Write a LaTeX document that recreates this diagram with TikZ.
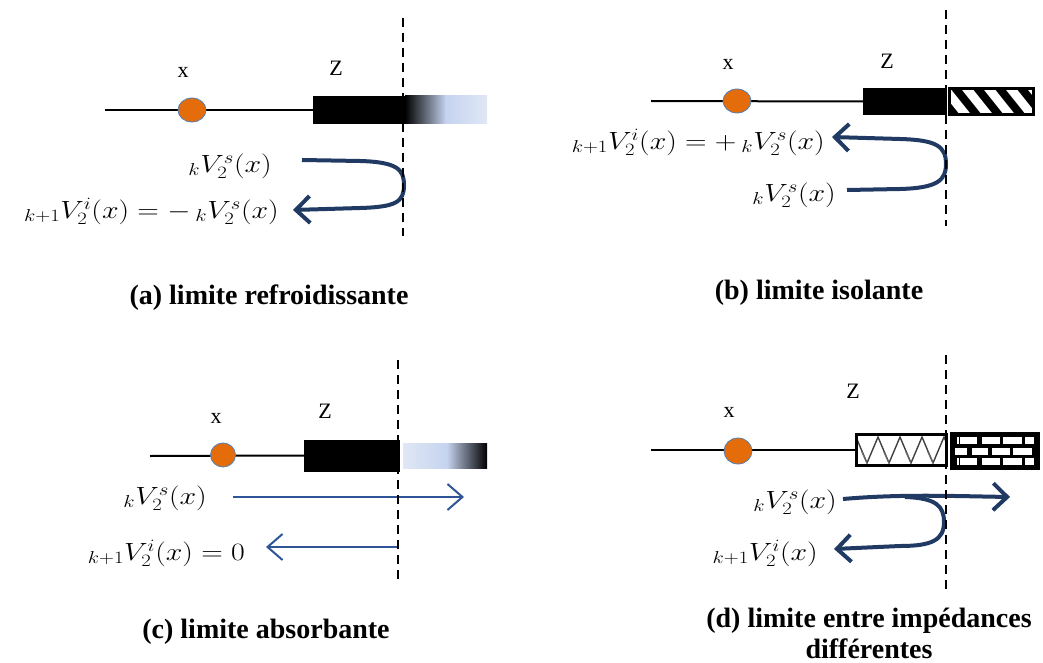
\documentclass[tikz,border=0pt]{standalone}
\usepackage{fontspec}
\setmainfont{Liberation Serif}
\usetikzlibrary{arrows.meta,shapes.geometric}
\DeclareMathSizes{28}{28}{19}{14}
\definecolor{dotorange}{HTML}{E46C0A}
\definecolor{dotedge}{HTML}{4F81BD}
\definecolor{navy}{HTML}{203A63}
\definecolor{midblue}{HTML}{2F5597}
\definecolor{lb}{HTML}{C5D3EF}
\definecolor{lbb}{HTML}{E0E7F5}
\newcommand{\wideeq}[1]{\scalebox{1.2}[1]{#1}}
\tikzset{
  wire/.style={line width=2pt, black},
  dot/.style={ellipse, fill=dotorange, draw=dotedge, line width=0.8pt, minimum width=28pt, minimum height=24pt, inner sep=0pt},
  lbl/.style={font=\fontsize{22}{26}\selectfont, inner sep=0pt},
  eq/.style={font=\fontsize{28}{33}\selectfont, inner sep=0pt},
  ttl/.style={font=\fontsize{28}{31}\selectfont\bfseries, align=center, inner sep=0pt},
  limitline/.style={line width=2.5pt, dash pattern=on 9pt off 6pt},
  solidbox/.style={fill=black, draw=none, inner sep=0pt},
  framebox/.style={draw=black, line width=3pt, inner sep=0pt},
  bigarrow/.style={line width=4pt, navy, -{Straight Barb[length=14pt,width=27pt]}},
  thinarrow/.style={line width=2pt, midblue, -{Straight Barb[length=15pt,width=26pt]}},
}
\begin{document}
\begin{tikzpicture}[x=1pt,y=-1pt]
\useasboundingbox (0,0) rectangle (1043,663);

% ---------------- (a) ----------------
\node[solidbox, minimum width=92pt, minimum height=28pt] (za) at (359,110) {};
\shade[left color=black, right color=lb] (405,96) rectangle (446,124);
\shade[left color=lb, right color=lbb] (445,96) rectangle (487,124);
\coordinate (la) at (105,110);
\draw[wire] (la) -- (za.west);
\node[dot] (xa) at (192,110) {};
\node[lbl] (lxa) at (183,72) {x};
\node[lbl] (lza) at (336,68) {Z};
\node[eq, anchor=east] (ea1) at (272,166) {\wideeq{${}_{k}V_{2}^{s}(x)$}};
\node[eq, anchor=east] (ea2) at (279,211) {\wideeq{${}_{k+1}V_{2}^{i}(x) = -\,{}_{k}V_{2}^{s}(x)$}};
\coordinate (sa) at (302,160);
\coordinate (ta) at (293,210);
\draw[bigarrow] (sa) -- (360,161) .. controls (398,162) and (404,170) .. (404,185) .. controls (404,202) and (396,207) .. (360,208) -- (ta);
\coordinate (da1) at (403,18);
\coordinate (da2) at (403,236);
\draw[limitline] (da1) -- (da2);
\node[ttl] (tta) at (269,298) {(a) limite refroidissante};

% ---------------- (b) ----------------
\node[solidbox, minimum width=84pt, minimum height=27pt] (zb) at (905,101.5) {};
\begin{scope}
  \clip (949,88) rectangle (1034,115);
  \foreach \i in {0,...,5} \draw[line width=8pt] (930+\i*22,84) -- (958+\i*22,119);
\end{scope}
\node[framebox, minimum width=84pt, minimum height=26pt] (hb) at (991.5,101.5) {};
\coordinate (lb0) at (651,101);
\draw[wire] (lb0) -- (zb.west);
\node[dot] (xb) at (737,101) {};
\node[lbl] (lxb) at (728,64) {x};
\node[lbl] (lzb) at (887,61) {Z};
\node[eq, anchor=east] (eb1) at (825,142) {\wideeq{${}_{k+1}V_{2}^{i}(x) = +\,{}_{k}V_{2}^{s}(x)$}};
\node[eq, anchor=east] (eb2) at (836,195) {\wideeq{${}_{k}V_{2}^{s}(x)$}};
\coordinate (sb) at (847,190);
\coordinate (tb) at (832,137);
\draw[bigarrow] (sb) -- (900,189) .. controls (938,188) and (946,180) .. (946,164) .. controls (946,146) and (936,140) .. (900,139) -- (tb);
\coordinate (db1) at (946,10);
\coordinate (db2) at (946,226);
\draw[limitline] (db1) -- (db2);
\node[ttl] (ttb) at (819,293) {(b) limite isolante};

% ---------------- (c) ----------------
\node[solidbox, minimum width=96pt, minimum height=32pt] (zc) at (352,455.5) {};
\shade[left color=lbb, right color=lb] (403,443) rectangle (448,468);
\shade[left color=lb, right color=black] (447,443) rectangle (487,468);
\coordinate (lc0) at (150,456);
\draw[wire] (lc0) -- (zc.west);
\node[dot, minimum width=25pt] (xc) at (223,455) {};
\node[lbl] (lxc) at (216,418) {x};
\node[lbl] (lzc) at (325,411) {Z};
\node[eq, anchor=east] (ec1) at (207,498) {\wideeq{${}_{k}V_{2}^{s}(x)$}};
\node[eq, anchor=east] (ec2) at (245,553) {\wideeq{${}_{k+1}V_{2}^{i}(x) = 0$}};
\coordinate (sc1) at (233,497);
\coordinate (tc1) at (464,497);
\coordinate (sc2) at (397,547);
\coordinate (tc2) at (266,547);
\draw[thinarrow] (sc1) -- (tc1);
\draw[thinarrow] (sc2) -- (tc2);
\coordinate (dc1) at (398,360);
\coordinate (dc2) at (398,580);
\draw[limitline] (dc1) -- (dc2);
\node[ttl] (ttc) at (266,632) {(c) limite absorbante};

% ---------------- (d) ----------------
\begin{scope}
  \clip (858,436) rectangle (945,464);
  \draw[line width=1.4pt, black!75] (856,437) -- (867,463) -- (878,437) -- (889,463) -- (900,437) -- (911,463) -- (922,437) -- (933,463) -- (944,437) -- (955,463);
  \foreach \u in {867,889,911,933} \draw[line width=1.2pt, black!60] (\u,463) -- (\u-5,452);
\end{scope}
\node[framebox, minimum width=90pt, minimum height=31pt] (zd) at (901.5,450) {};
\fill[black] (951.5,433.5) rectangle (1038.5,468.5);
\begin{scope}[white]
  \foreach \a/\b in {957/958.5,960/977,982/1000,1003/1022,1025/1034} {
    \fill (\a,437) rectangle (\b,444);
    \fill (\a,458) rectangle (\b,465);
  }
  \foreach \a/\b in {955/967,972/988,992/1010,1013/1032} \fill (\a,447.5) rectangle (\b,455);
\end{scope}
\node[framebox, minimum width=87pt, minimum height=35pt] (bd) at (995,451) {};
\coordinate (ld0) at (651,450);
\draw[wire] (ld0) -- (zd.west);
\node[dot, minimum height=26pt] (xd) at (738,451) {};
\node[lbl] (lxd) at (729,412) {x};
\node[lbl] (lzd) at (853,391) {Z};
\node[eq, anchor=east] (ed1) at (837,502) {\wideeq{${}_{k}V_{2}^{s}(x)$}};
\node[eq, anchor=east] (ed2) at (818,553) {\wideeq{${}_{k+1}V_{2}^{i}(x)$}};
\coordinate (sd) at (843,499);
\coordinate (td1) at (1010,497);
\coordinate (bd0) at (905,497);
\coordinate (td2) at (834,549);
\draw[bigarrow] (sd) .. controls (900,494) and (950,496) .. (td1);
\draw[bigarrow] (bd0) .. controls (936,498) and (944,506) .. (944,522) .. controls (944,540) and (932,546) .. (900,546) -- (td2);
\coordinate (dd1) at (946,355);
\coordinate (dd2) at (946,592);
\draw[limitline] (dd1) -- (dd2);
\node[ttl] (ttd) at (869,633) {(d) limite entre impédances\\différentes};
\end{tikzpicture}
\end{document}
